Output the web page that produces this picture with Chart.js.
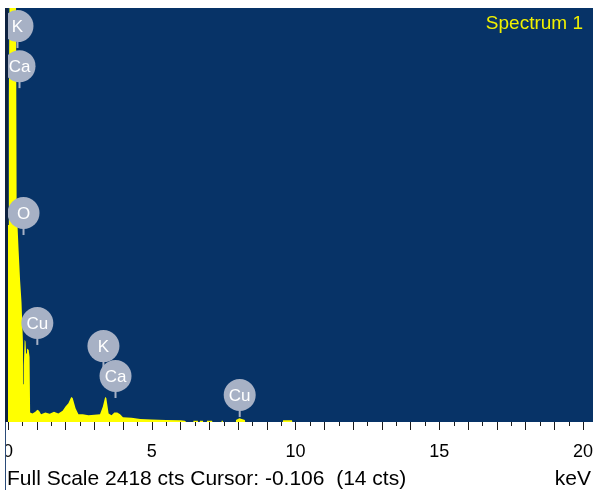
<!DOCTYPE html>
<html>
<head>
<meta charset="utf-8">
<script src="https://cdn.jsdelivr.net/npm/chart.js@4.4.0/dist/chart.umd.min.js"></script>
<style>
  html, body { margin: 0; padding: 0; background: #fff; }
  #wrap { width: 593px; height: 490px; }
</style>
</head>
<body>
<div id="wrap"><canvas id="spectrum"></canvas></div>
<script>
// EDS spectrum, keV vs counts
const lowEnergy = [0, 0.03, 0.06, 0.25, 0.28, 0.30, 0.33, 0.37, 0.42, 0.47, 0.50, 0.52, 0.53, 0.55, 0.58,
  0.61, 0.63, 0.66, 0.72, 0.75, 0.77, 0.85, 0.95, 1.02, 1.08, 1.15, 1.3, 1.45, 1.6, 1.75,
  1.9, 2.0, 2.1, 2.2, 2.25, 2.35, 2.45, 2.6, 2.8, 3.0, 3.2, 3.3, 3.38, 3.42, 3.5,
  3.6, 3.7, 3.8, 3.9, 4.0, 4.3, 4.6, 5.0, 5.5, 6.0, 6.15];
const lowCounts = [1150, 1900, 2700, 2700, 2418, 1300, 1150, 1000, 830, 700, 560, 470, 220, 330, 480,
  470, 400, 430, 420, 380, 55, 50, 60, 72, 65, 45, 55, 48, 60, 50,
  65, 90, 110, 146, 140, 80, 45, 45, 40, 42, 45, 90, 146, 140, 50,
  40, 55, 55, 45, 28, 25, 18, 15, 12, 10, 8];
const tailEnergy = [6.2, 6.44, 6.45, 6.6, 6.61, 6.67, 6.68, 6.78, 6.79, 6.91, 6.92, 7.1, 7.11, 7.42,
  7.43, 7.47, 7.48, 7.92, 7.93, 8.05, 8.24, 8.25, 9.56, 9.57, 9.88, 9.89, 20.35];
const tailCounts = [0, 0, 8, 8, 0, 0, 8, 8, 0, 0, 8, 8, 0, 0,
  8, 8, 0, 0, 12, 22, 12, 0, 0, 10, 10, 0, 0];

const tickLabels = [0, 5, 10, 15, 20];
const fullScale = 2418;

// element markers: label, energy, counts where the stem ends
const peakNames = ['K', 'Ca', 'O', 'Cu', 'K', 'Ca', 'Cu'];
const peakEnergy = [0.33, 0.40, 0.54, 1.02, 3.32, 3.74, 8.06];
const peakCounts = [2184, 1950, 1092, 450, 315, 140, 29];

const points = lowEnergy.map((e, i) => ({ x: e, y: lowCounts[i] }))
  .concat(tailEnergy.map((e, i) => ({ x: e, y: tailCounts[i] })));

const FONT = '"Liberation Sans", Arial, sans-serif';

const decor = {
  id: 'decor',
  beforeDraw(chart) {
    const { ctx, chartArea: a } = chart;
    ctx.save();
    ctx.fillStyle = '#073367';
    ctx.fillRect(a.left - 2, a.top, chart.width - a.left + 2, a.bottom - a.top);
    ctx.restore();
  },
  afterDatasetsDraw(chart) {
    const { ctx, chartArea: a } = chart;
    const xs = chart.scales.x, ys = chart.scales.y;

    // element labels
    ctx.save();
    ctx.beginPath();
    ctx.rect(a.left, a.top, a.right - a.left, a.bottom - a.top);
    ctx.clip();
    peakNames.forEach((name, i) => {
      const px = xs.getPixelForValue(peakEnergy[i]);
      const py = ys.getPixelForValue(peakCounts[i]);
      const cy = py - 22;
      ctx.strokeStyle = '#a7b1c5';
      ctx.lineWidth = 2;
      ctx.beginPath();
      ctx.moveTo(px, cy);
      ctx.lineTo(px, py);
      ctx.stroke();
      ctx.fillStyle = '#a7b1c5';
      ctx.beginPath();
      ctx.arc(px, cy, 16, 0, Math.PI * 2);
      ctx.fill();
      ctx.fillStyle = '#ffffff';
      ctx.font = '17px ' + FONT;
      ctx.textAlign = 'center';
      ctx.textBaseline = 'middle';
      ctx.fillText(name, px, cy + 1);
    });
    ctx.restore();

    // title inside plot
    ctx.save();
    ctx.fillStyle = '#f0f000';
    ctx.font = '19px ' + FONT;
    ctx.textAlign = 'right';
    ctx.textBaseline = 'alphabetic';
    ctx.fillText('Spectrum 1', 583, 29);
    ctx.restore();

    // axis ticks every 0.5 keV
    ctx.save();
    ctx.strokeStyle = '#1a1a1a';
    ctx.lineWidth = 1;
    ctx.beginPath();
    for (let k = 0; k <= 40; k++) {
      const v = k / 2;
      const px = Math.round(xs.getPixelForValue(v)) + 0.5;
      const len = k % 2 === 0 ? 8 : 4;
      ctx.moveTo(px, a.bottom);
      ctx.lineTo(px, a.bottom + len);
    }
    ctx.stroke();

    // status line
    ctx.fillStyle = '#000';
    ctx.font = '21px ' + FONT;
    ctx.textBaseline = 'alphabetic';
    ctx.textAlign = 'left';
    ctx.fillText('Full Scale ' + fullScale + ' cts Cursor: -0.106  (14 cts)', 7, 485);
    ctx.textAlign = 'right';
    ctx.fillText('keV', 591, 485);
    ctx.restore();
  },
  afterDraw(chart) {
    // left frame edge, it cuts the "0" label like the original window does
    const { ctx, chartArea: a } = chart;
    ctx.save();
    ctx.fillStyle = '#ffffff';
    ctx.fillRect(0, a.bottom, 5, chart.height - a.bottom);
    ctx.fillStyle = '#0e2240';
    ctx.fillRect(5, a.top, 3, a.bottom - a.top);
    ctx.fillStyle = '#2a4a78';
    ctx.fillRect(5, a.bottom, 1, chart.height - a.bottom);
    ctx.restore();
  }
};

new Chart(document.getElementById('spectrum'), {
  type: 'line',
  data: {
    datasets: [{
      data: points,
      fill: 'origin',
      backgroundColor: '#ffff00',
      borderColor: 'rgba(0,0,0,0)',
      borderWidth: 0,
      pointRadius: 0,
      tension: 0
    }]
  },
  options: {
    responsive: true,
    maintainAspectRatio: false,
    animation: false,
    layout: { padding: { left: 8, top: 8, right: 0, bottom: 0 } },
    plugins: { legend: { display: false }, tooltip: { enabled: false } },
    scales: {
      x: {
        type: 'linear',
        min: 0,
        max: 20.35,
        grid: { display: false },
        border: { display: false },
        afterBuildTicks(scale) { scale.ticks = tickLabels.map(v => ({ value: v })); },
        afterFit(scale) {
          scale.height = 68;
          scale.paddingLeft = 0;
          scale.paddingRight = 0;
        },
        ticks: {
          autoSkip: false,
          maxRotation: 0,
          padding: 11,
          color: '#000',
          font: { family: FONT, size: 18 }
        }
      },
      y: {
        display: false,
        min: 0,
        max: fullScale
      }
    }
  },
  plugins: [decor]
});
</script>
</body>
</html>
